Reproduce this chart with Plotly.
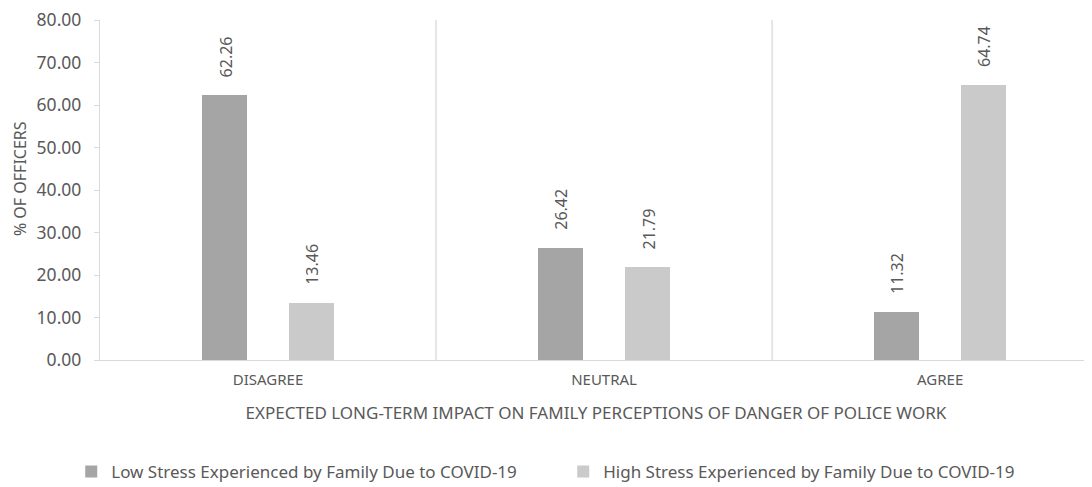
import plotly.graph_objects as go

categories = ["DISAGREE", "NEUTRAL", "AGREE"]
low_stress = [62.26, 26.42, 11.32]
high_stress = [13.46, 21.79, 64.74]
series_names = ["Low Stress Experienced by Family Due to COVID-19",
                "High Stress Experienced by Family Due to COVID-19"]
y_ticks = [0, 10, 20, 30, 40, 50, 60, 70, 80]
x_title = "EXPECTED LONG-TERM IMPACT ON FAMILY PERCEPTIONS OF DANGER OF POLICE WORK"
y_title = "% OF OFFICERS"

FONT = "Noto Sans"
TXT = "#595959"
AXC = "#d9d9d9"
C_LOW = "#a5a5a5"
C_HIGH = "#cacaca"
BAR_W = 0.134
HALF = 0.1295

idx = list(range(len(categories)))
fig = go.Figure()
fig.add_trace(go.Bar(x=idx, y=low_stress, name=series_names[0], marker_color=C_LOW,
                     marker_line_width=0,
                     width=BAR_W, offset=-HALF - BAR_W / 2, hoverinfo="y"))
fig.add_trace(go.Bar(x=idx, y=high_stress, name=series_names[1], marker_color=C_HIGH,
                     marker_line_width=0,
                     width=BAR_W, offset=HALF - BAR_W / 2, hoverinfo="y"))

annotations = []
for i, (lo, hi) in enumerate(zip(low_stress, high_stress)):
    for xv, yv in ((i - HALF, lo), (i + HALF, hi)):
        annotations.append(dict(x=xv, y=yv, xref="x", yref="y", text=f"{yv:.2f}",
                                textangle=-90, showarrow=False, yanchor="bottom",
                                yshift=16, xshift=1,
                                font=dict(family=FONT, size=16, color=TXT)))

# y-axis title placed as text to match reference position
annotations.append(dict(x=0, y=0.532, xref="paper", yref="paper", text=y_title,
                        textangle=-90, showarrow=False, xanchor="center", yanchor="middle",
                        xshift=-80, font=dict(family=FONT, size=16, color=TXT)))

shapes = []
for b in [0.5, 1.5]:
    shapes.append(dict(type="line", xref="x", yref="paper", x0=b, x1=b, y0=0, y1=1,
                       line=dict(color=AXC, width=1.3), layer="below"))

fig.update_layout(
    width=1084, height=479,
    margin=dict(l=92, r=0, t=12, b=127, autoexpand=False),
    plot_bgcolor="white", paper_bgcolor="white",
    font=dict(family=FONT, color=TXT),
    showlegend=True,
    legend=dict(orientation="h", x=-0.029, xanchor="left", y=-0.329, yanchor="middle",
                font=dict(family=FONT, size=17, color=TXT), entrywidth=447,
                traceorder="normal", itemwidth=30),
    annotations=annotations,
    shapes=shapes,
    bargap=0.0,
    xaxis=dict(
        tickmode="array", tickvals=idx, ticktext=categories,
        range=[-0.5, 2.452], showgrid=False, zeroline=False,
        showline=True, linecolor=AXC, linewidth=1.3, ticks="",
        tickfont=dict(family=FONT, size=15, color=TXT), ticklabelstandoff=6,
        title=dict(text=x_title, font=dict(family=FONT, size=17, color=TXT), standoff=18),
    ),
    yaxis=dict(
        range=[0, 80], tickvals=y_ticks, tickformat=".2f",
        showgrid=False, zeroline=False, showline=True, linecolor=AXC, linewidth=1.3,
        ticks="outside", ticklen=5, tickcolor=AXC, ticklabeloverflow="allow",
        tickfont=dict(family=FONT, size=17.5, color=TXT), ticklabelstandoff=9,
    ),
)

fig.write_html("out.html")
